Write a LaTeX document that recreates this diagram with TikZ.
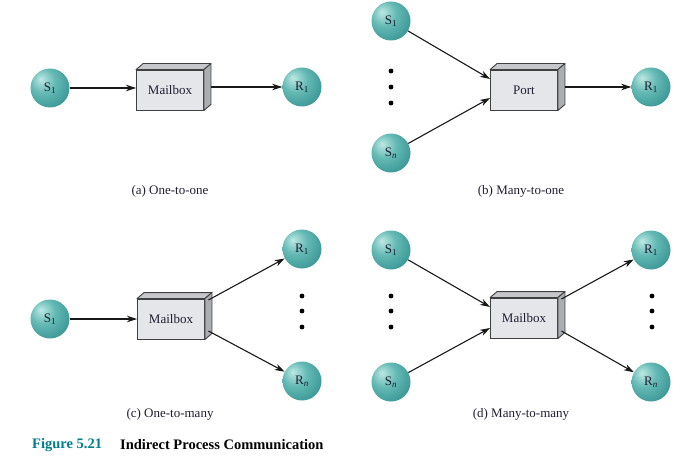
\documentclass[tikz,border=0pt]{standalone}
\usepackage{fontspec}
\setmainfont{Liberation Serif}
\usetikzlibrary{arrows.meta,calc}
\definecolor{tA}{RGB}{190,232,228}
\definecolor{tB}{RGB}{100,185,180}
\definecolor{tC}{RGB}{45,140,140}
\definecolor{txt}{RGB}{30,30,50}
\definecolor{figc}{RGB}{0,125,135}
\definecolor{frontc}{RGB}{229,230,234}
\definecolor{topc}{RGB}{198,199,203}
\definecolor{sidec}{RGB}{172,173,178}
\pgfdeclareradialshading{tealball}{\pgfpoint{-12bp}{12bp}}{color(0bp)=(tA); color(16bp)=(tB); color(40bp)=(tC); color(70bp)=(tC)}
\newcommand{\boxfaces}[1]{%
  \filldraw[fill=topc,draw=black!75,line width=0.9pt,line join=round] (#1.north west) -- ++(7,-6) -- ($(#1.north east)+(7,-6)$) -- (#1.north east) -- cycle;
  \filldraw[fill=sidec,draw=black!75,line width=0.9pt,line join=round] (#1.north east) -- ++(7,-6) -- ($(#1.south east)+(7,-6)$) -- (#1.south east) -- cycle;
}
\begin{document}
\begin{tikzpicture}[x=1pt,y=-1pt,
  proc/.style={circle, minimum size=39pt, inner sep=0pt, shading=tealball, font=\fontsize{13}{13}\selectfont, text=txt},
  mbox/.style={rectangle, minimum width=67pt, minimum height=40pt, inner sep=0pt, draw=black!75, fill=frontc, line width=0.9pt, font=\fontsize{13}{13}\selectfont, text=txt},
  arr/.style={-{Stealth[length=10pt,width=6.5pt,inset=3pt]}, line width=1.1pt, draw=black!90},
  dotn/.style={circle, fill=black, inner sep=0pt, minimum size=4.8pt},
  subcap/.style={font=\fontsize{13}{13}\selectfont, text=txt, inner sep=0pt}
]
\useasboundingbox (0,0) rectangle (692,457);

% (a) one-to-one
\node[proc] (s1a) at (50,88) {S\textsubscript{1}};
\node[mbox] (mba) at (170,90) {Mailbox};
\boxfaces{mba}
\node[proc] (r1a) at (302,87) {R\textsubscript{1}};
\draw[arr] (s1a.east) -- (s1a.east -| mba.west);
\draw[arr] ($(mba.east)+(7,-3)$) -- (r1a.west);
\node[subcap] (capa) at (170,191) {(a) One-to-one};

% (b) many-to-one
\node[proc] (s1b) at (391,21) {S\textsubscript{1}};
\node[dotn] (db1) at (391,71) {};
\node[dotn] (db2) at (391,87) {};
\node[dotn] (db3) at (391,103) {};
\node[proc] (snb) at (391,153) {S\textsubscript{\textit{n}}};
\node[mbox] (port) at (524,90) {Port};
\boxfaces{port}
\node[proc] (r1b) at (651,87) {R\textsubscript{1}};
\draw[arr] (s1b) -- ($(port.west)+(0,-11)$);
\draw[arr] (snb) -- ($(port.west)+(0,8)$);
\draw[arr] ($(port.east)+(7,-3)$) -- (r1b.west);
\node[subcap] (capb) at (521,191) {(b) Many-to-one};

% (c) one-to-many
\node[proc] (s1c) at (50,319) {S\textsubscript{1}};
\node[mbox] (mbc) at (171,319) {Mailbox};
\boxfaces{mbc}
\node[proc] (r1c) at (302,249) {R\textsubscript{1}};
\node[dotn] (dc1) at (302,296) {};
\node[dotn] (dc2) at (302,311) {};
\node[dotn] (dc3) at (302,327) {};
\node[proc] (rnc) at (302,381) {R\textsubscript{\textit{n}}};
\draw[arr] (s1c.east) -- (s1c.east -| mbc.west);
\draw[arr] ($(mbc.east)+(3.5,-19)$) -- (r1c);
\draw[arr] ($(mbc.east)+(3.5,12)$) -- (rnc);
\node[subcap] (capc) at (170,414) {(c) One-to-many};

% (d) many-to-many
\node[proc] (s1d) at (391,250) {S\textsubscript{1}};
\node[dotn] (dd1) at (391,296) {};
\node[dotn] (dd2) at (391,311) {};
\node[dotn] (dd3) at (391,327) {};
\node[proc] (snd) at (391,382) {S\textsubscript{\textit{n}}};
\node[mbox] (mbd) at (524,318) {Mailbox};
\boxfaces{mbd}
\node[proc] (r1d) at (651,250) {R\textsubscript{1}};
\node[dotn] (de1) at (652,296) {};
\node[dotn] (de2) at (652,311) {};
\node[dotn] (de3) at (652,327) {};
\node[proc] (rnd) at (651,382) {R\textsubscript{\textit{n}}};
\draw[arr] (s1d) -- ($(mbd.west)+(0,-11)$);
\draw[arr] (snd) -- ($(mbd.west)+(0,10)$);
\draw[arr] ($(mbd.east)+(3.5,-19)$) -- (r1d);
\draw[arr] ($(mbd.east)+(3.5,13)$) -- (rnd);
\node[subcap] (capd) at (521,414) {(d) Many-to-many};

% figure caption
\node[anchor=west, inner sep=0pt, font=\fontsize{14.5}{14.5}\selectfont\bfseries, text=figc] (fig) at (32,445) {Figure 5.21};
\node[anchor=west, inner sep=0pt, font=\fontsize{14.5}{14.5}\selectfont\bfseries, text=black] (figt) at (120,445) {Indirect Process Communication};
\end{tikzpicture}
\end{document}
